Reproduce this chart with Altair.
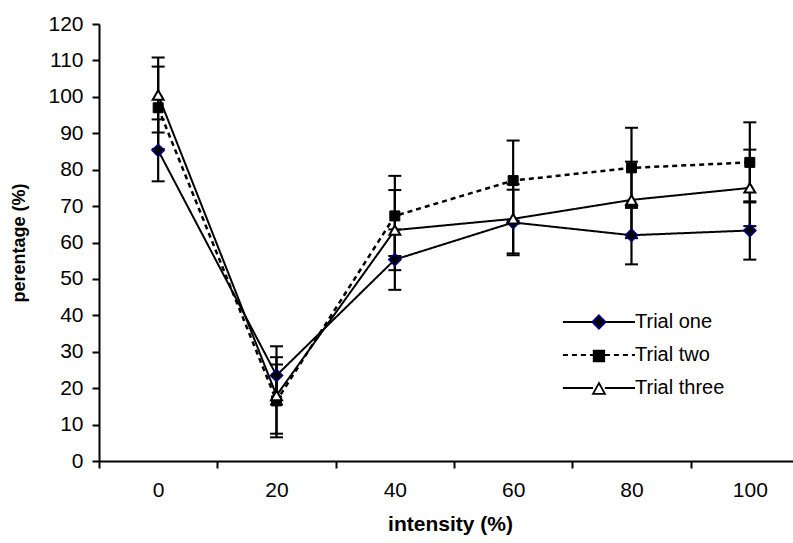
import altair as alt
import pandas as pd

# ---- data ----
intensity = [0, 20, 40, 60, 80, 100]
series_names = ["Trial one", "Trial two", "Trial three"]
trial_one = [85.3, 23.5, 55.3, 65.5, 62.0, 63.3]
trial_one_err = [8.5, 8.0, 8.3, 9.0, 8.0, 8.0]
trial_two = [97.0, 16.5, 67.3, 77.0, 80.5, 82.0]
trial_two_err = [11.3, 10.0, 11.0, 11.0, 11.0, 11.0]
trial_three = [100.5, 18.0, 63.4, 66.5, 71.7, 75.0]
trial_three_err = [10.3, 10.5, 11.0, 9.5, 10.5, 10.5]

rows = []
for name, vals, errs in zip(series_names,
                            [trial_one, trial_two, trial_three],
                            [trial_one_err, trial_two_err, trial_three_err]):
    for x, v, e in zip(intensity, vals, errs):
        rows.append({"intensity": x, "series": name, "value": v,
                     "lo": v - e, "hi": v + e})
df = pd.DataFrame(rows)

FONT = "Liberation Sans"
W, H = 694, 437
X_MIN, X_MAX = -10, 107.3
PX = W / (X_MAX - X_MIN)

x_scale = alt.Scale(domain=[X_MIN, X_MAX], nice=False, zero=False)
y_scale = alt.Scale(domain=[0, 120], nice=False, zero=True)

x_axis = alt.Axis(values=intensity, title="intensity (%)", titleFont=FONT,
                  titleFontSize=21, titleFontWeight="bold", titleColor="black",
                  titlePadding=13, titleX=351, labelFont=FONT, labelFontSize=21,
                  labelColor="black", labelPadding=11, tickSize=7,
                  tickColor="black", tickWidth=2, domainColor="black",
                  domainWidth=2, grid=False, tickOffset=-10 * PX,
                  labelOffset=10 * PX, labelOverlap=False)
y_axis = alt.Axis(values=list(range(0, 121, 10)), title="perentage (%)",
                  titleFont=FONT, titleFontSize=18, titleFontWeight="bold",
                  titleColor="black", titlePadding=19, labelFont=FONT,
                  labelFontSize=21, labelColor="black", labelPadding=9,
                  tickSize=7, tickColor="black", tickWidth=2,
                  domainColor="black", domainWidth=2, grid=False,
                  labelOverlap=False)

X = alt.X("intensity:Q", scale=x_scale, axis=x_axis)

styles = {
    "Trial one": dict(shape="diamond", size=150, fill="#000000",
                      stroke="#000080", sw=1.5, dash=[1, 0]),
    "Trial two": dict(shape="square", size=100, fill="#000000",
                      stroke="#000000", sw=1, dash=[5, 4]),
    "Trial three": dict(shape="triangle-up", size=120, fill="#ffffff",
                        stroke="#000000", sw=2, dash=[1, 0]),
}

err_layers, line_layers, point_layers = [], [], []
for name in series_names:
    st = styles[name]
    base = alt.Chart(df).transform_filter(alt.datum.series == name)
    err_layers.append(base.mark_rule(color="black", strokeWidth=2.2).encode(
        x=X, y=alt.Y("lo:Q", scale=y_scale, axis=y_axis), y2="hi:Q"))
    for f in ["lo", "hi"]:
        err_layers.append(base.mark_tick(orient="horizontal", size=13,
                                         thickness=2, color="black",
                                         opacity=1).encode(
            x=X, y=alt.Y(f"{f}:Q", scale=y_scale, axis=y_axis)))
    line_layers.append(base.mark_line(color="black",
                                      strokeWidth=2.5 if name == "Trial two" else 2,
                                      strokeDash=st["dash"]).encode(
        x=X, y=alt.Y("value:Q", scale=y_scale, axis=y_axis)))
    point_layers.append(base.mark_point(shape=st["shape"], size=st["size"],
                                        filled=False, fill=st["fill"],
                                        stroke=st["stroke"],
                                        strokeWidth=st["sw"], opacity=1).encode(
        x=X, y=alt.Y("value:Q", scale=y_scale, axis=y_axis)))

# ---- legend: two overlaid legends (line part dashed, marker part solid) ----
line_paths = ["M-8.87,0L-4.57,0M-2.87,0L1.43,0"] * 3
marker_paths = [
    "M-3.72,-0.95L-2.77,0L-3.72,0.95L-4.67,0Z",
    "M-4.47,-0.75L-2.97,-0.75L-2.97,0.75L-4.47,0.75Z",
    "M-3.72,-0.85L-2.87,0.7L-4.57,0.7Z",
]
common = dict(orient="none", legendX=516, legendY=288, title=None,
              symbolSize=196, labelFont=FONT, labelFontSize=20,
              labelOffset=0, rowPadding=13, padding=0)
leg_lines = alt.Legend(symbolStrokeWidth=2, labelColor="black", **common)
leg_marks = alt.Legend(symbolStrokeWidth=1.8, labelColor="transparent", **common)

legend_df = pd.DataFrame({"series": series_names, "marker": series_names})
lines_leg = alt.Chart(legend_df).transform_filter("false").mark_point(
    opacity=1, filled=False).encode(
    shape=alt.Shape("series:N", scale=alt.Scale(domain=series_names,
                                                range=line_paths), legend=leg_lines),
    stroke=alt.Stroke("series:N", scale=alt.Scale(domain=series_names,
                                                  range=["#000000"] * 3),
                      legend=leg_lines),
    strokeDash=alt.StrokeDash("series:N", scale=alt.Scale(domain=series_names,
                                                          range=[[1, 0], [5, 4], [1, 0]]),
                              legend=leg_lines),
)
marks_leg = alt.Chart(legend_df).transform_filter("false").mark_point(
    opacity=1).encode(
    shape=alt.Shape("marker:N", scale=alt.Scale(domain=series_names,
                                                range=marker_paths), legend=leg_marks),
    fill=alt.Fill("marker:N", scale=alt.Scale(domain=series_names,
                                              range=["#000000", "#000000", "#ffffff"]),
                  legend=leg_marks),
    stroke=alt.Stroke("marker:N", scale=alt.Scale(domain=series_names,
                                                  range=["#000080", "#000000", "#000000"]),
                      legend=leg_marks),
)

chart = alt.layer(*err_layers, *line_layers, *point_layers, lines_leg, marks_leg).resolve_scale(
    shape="independent", stroke="independent", fill="independent",
    strokeDash="independent",
).resolve_legend(
    shape="independent", stroke="independent", fill="independent",
    strokeDash="independent",
).properties(
    width=W, height=H,
    autosize=alt.AutoSizeParams(type="none"),
    padding={"left": 99, "top": 24, "right": 0, "bottom": 82},
    background="white",
).configure_view(stroke=None)

chart.save("out.html", embed_options={"renderer": "svg", "actions": False})
